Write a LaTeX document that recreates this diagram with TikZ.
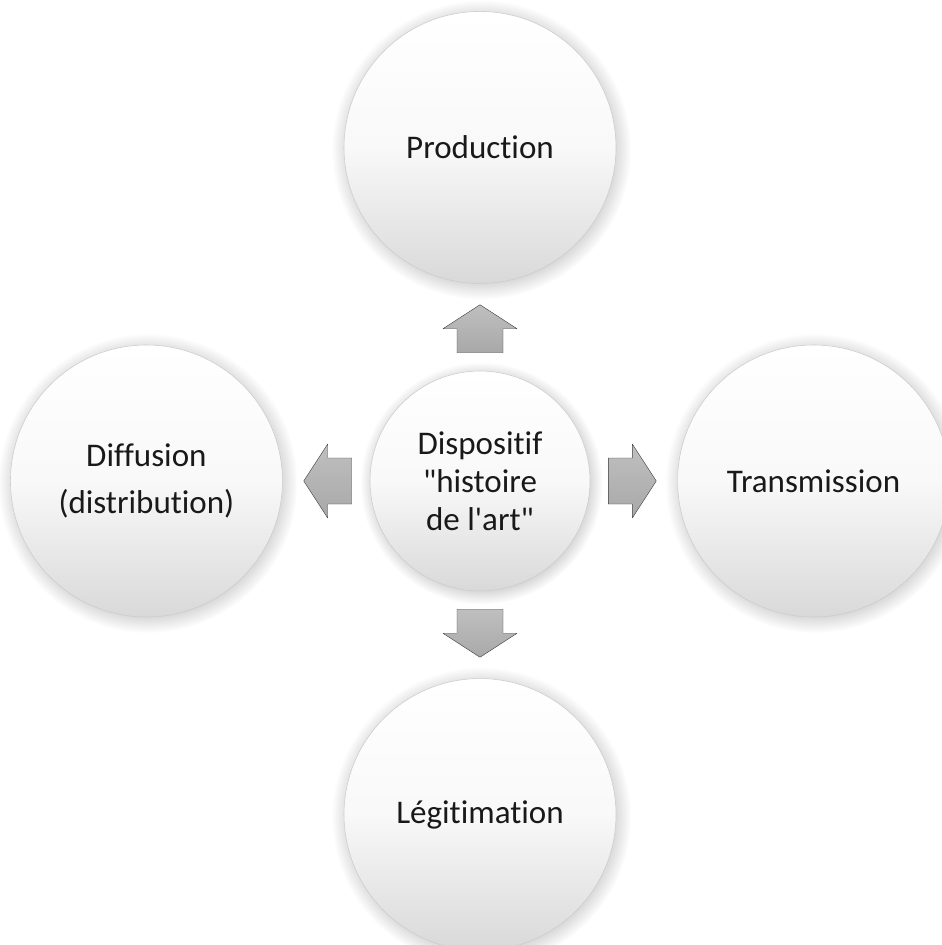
\documentclass[tikz,border=0pt]{standalone}
\usepackage{fontspec}
\setmainfont{Carlito}[Ligatures=NoCommon]
\usetikzlibrary{positioning,shadows}

\newcommand\blockarrow[2]{% start point, direction
	\draw[arrowfill,shift={(#1)},rotate=#2] (0,-0.575)--(0.6,-0.575)--(0.6,-0.925)--(1.2,0)
		--(0.6,0.925)--(0.6,0.575)--(0,0.575)--cycle;}

\begin{document}
\begin{tikzpicture}[font=\fontsize{23.5}{34}\selectfont,node distance=2.175cm,line join=round,
	bubble/.style={circle,draw=gray!40,line width=0.4pt,inner sep=0pt,align=center,text=black!90,
		top color=white,bottom color=gray!30,middle color=white!95!gray,
		circular drop shadow={shadow xshift=0.03cm,shadow yshift=-0.05cm,opacity=0.4}},
	big/.style={bubble,minimum size=6.8cm},
	hub/.style={bubble,minimum size=5.5cm,font=\fontsize{23.5}{27}\selectfont},
	arrowfill/.style={draw=gray!50!black,line width=0.3pt,top color=gray!50,bottom color=gray!68}]
		\useasboundingbox (0,0) rectangle (23.525,-23.625);
		% centre
		\node[hub] (ctr) at (12,-12.025) {Dispositif\\\textquotedbl histoire\\de l\textquotesingle art\textquotedbl};
		% the four circles
		\node[big,above=of ctr] (prod) {Production};
		\node[big,left=of ctr] (diff) {Diffusion\\(distribution)};
		\node[big,right=of ctr] (trans) {Transmission};
		\node[big,below=of ctr] (legit) {Légitimation};
		% block arrows
		\coordinate (aup) at ([yshift=0.45cm]ctr.north);
		\coordinate (aleft) at ([xshift=-0.45cm]ctr.west);
		\coordinate (aright) at ([xshift=0.45cm]ctr.east);
		\coordinate (adown) at ([yshift=-0.45cm]ctr.south);
		\blockarrow{aup}{90}
		\blockarrow{aleft}{180}
		\blockarrow{aright}{0}
		\blockarrow{adown}{270}
\end{tikzpicture}
\end{document}
